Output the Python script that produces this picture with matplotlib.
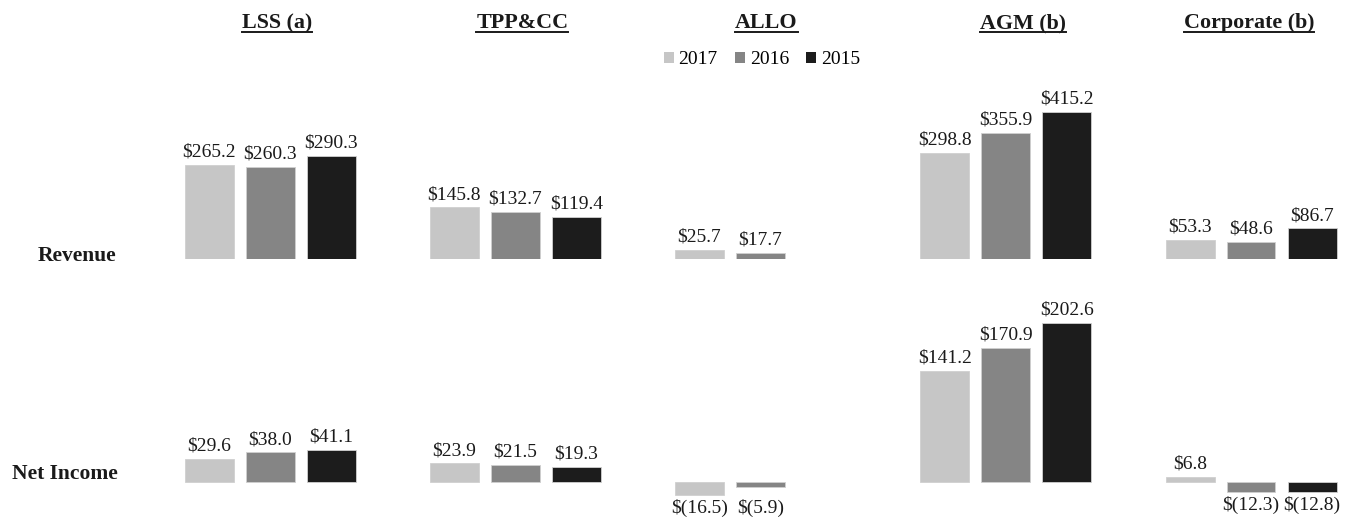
import matplotlib
matplotlib.use("Agg")
import matplotlib.pyplot as plt
from matplotlib.patches import Patch
from matplotlib.lines import Line2D

# Segment results, $ millions
segments = ["LSS (a)", "TPP&CC", "ALLO", "AGM (b)", "Corporate (b)"]
years = ["2017", "2016", "2015"]
revenue_2017 = [265.2, 145.8, 25.7, 298.8, 53.3]
revenue_2016 = [260.3, 132.7, 17.7, 355.9, 48.6]
revenue_2015 = [290.3, 119.4, None, 415.2, 86.7]
net_income_2017 = [29.6, 23.9, -16.5, 141.2, 6.8]
net_income_2016 = [38.0, 21.5, -5.9, 170.9, -12.3]
net_income_2015 = [41.1, 19.3, None, 202.6, -12.8]
row_labels = ["Revenue", "Net Income"]

colors = ["#c6c6c6", "#858585", "#1c1c1c"]
SERIF = ["Liberation Serif", "DejaVu Serif"]
TXT = "#1a1a1a"

W, H = 1349, 520
fig = plt.figure(figsize=(W / 100, H / 100), dpi=100)
fig.patch.set_facecolor("white")

# horizontal layout: group centres 245 px apart, first at 270 px
X0, STEP = 270.0, 245.25
OFFSET, BAR_W = 61.0 / STEP, 49.0 / STEP


def px_axes(top, bottom):
    ax = fig.add_axes([0, 1 - bottom / H, 1, (bottom - top) / H])
    ax.set_xlim(-X0 / STEP, (W - X0) / STEP)
    ax.axis("off")
    return ax


def fmt(v):
    return f"${v:.1f}" if v >= 0 else f"$({abs(v):.1f})"


def draw_row(ax, series):
    for i in range(len(segments)):
        vals = [s[i] for s in series if s[i] is not None]
        low = min(vals)
        for k, s in enumerate(series):
            v = s[i]
            if v is None:
                continue
            x = i + (k - 1) * OFFSET
            ax.bar(x, v, width=BAR_W, color=colors[k], edgecolor="#d0d0d0",
                   linewidth=0.6)
            if v >= 0:
                ax.annotate(fmt(v), (x, v), xytext=(0, 3), textcoords="offset points",
                            ha="center", va="bottom", fontsize=14,
                            family=SERIF, color=TXT)
            else:
                ax.annotate(fmt(v), (x, low), xytext=(0, -3), textcoords="offset points",
                            ha="center", va="top", fontsize=14,
                            family=SERIF, color=TXT)


# Revenue row: baseline at 259 px, 0.355 px per $M
ax_rev = px_axes(0, 259)
ax_rev.set_ylim(0, 259 / 0.355)
draw_row(ax_rev, [revenue_2017, revenue_2016, revenue_2015])

# Net income row: baseline at 482 px, 0.785 px per $M
ax_ni = px_axes(290, 520)
ax_ni.set_ylim(-(520 - 482) / 0.785, (482 - 290) / 0.785)
draw_row(ax_ni, [net_income_2017, net_income_2016, net_income_2015])

# Row labels
fig.text(38 / W, 1 - 261 / H, row_labels[0], ha="left", va="baseline",
         fontsize=15.5, fontweight="bold", family=SERIF, color=TXT)
fig.text(12 / W, 1 - 479 / H, row_labels[1], ha="left", va="baseline",
         fontsize=15.5, fontweight="bold", family=SERIF, color=TXT)

# Segment headings, underlined
title_shift = [7, 7, 6, 17, -2]
titles = []
for i, name in enumerate(segments):
    xp = X0 + i * STEP + title_shift[i]
    t = fig.text(xp / W, 1 - 28 / H, name, ha="center", va="baseline",
                 fontsize=15.8, fontweight="bold", family=SERIF, color=TXT)
    titles.append(t)

# Legend
handles = [Patch(facecolor=c, edgecolor="none") for c in colors]
fig.legend(handles, years, loc="center", bbox_to_anchor=(762 / W, 1 - 60 / H),
           ncol=3, frameon=False, handlelength=0.5, handleheight=0.5,
           handletextpad=0.25, columnspacing=0.9,
           prop={"family": SERIF, "size": 14})

fig.canvas.draw()
renderer = fig.canvas.get_renderer()
for t in titles:
    bb = t.get_window_extent(renderer)
    y = (bb.y0 + 1) / H
    fig.add_artist(Line2D([bb.x0 / W, bb.x1 / W], [y, y], transform=fig.transFigure,
                          color=TXT, linewidth=1.4))

fig.savefig("out.png", dpi=100, facecolor="white")
